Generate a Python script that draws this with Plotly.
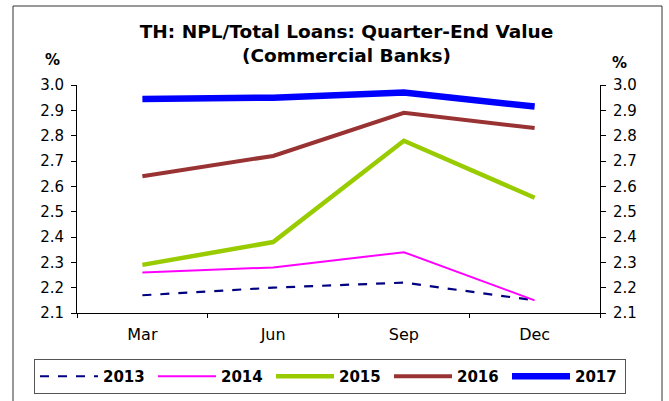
import plotly.graph_objects as go

# Quarter-end NPL ratio of Thai commercial banks (%)
quarters = ["Mar", "Jun", "Sep", "Dec"]
npl_2013 = [2.17, 2.20, 2.22, 2.15]
npl_2014 = [2.26, 2.28, 2.34, 2.15]
npl_2015 = [2.29, 2.38, 2.78, 2.555]
npl_2016 = [2.64, 2.72, 2.89, 2.83]
npl_2017 = [2.945, 2.95, 2.97, 2.915]

y_min, y_max = 2.1, 3.0
y_ticks = [2.1, 2.2, 2.3, 2.4, 2.5, 2.6, 2.7, 2.8, 2.9, 3.0]

series = [
    ("2013", npl_2013, dict(color="#000080", width=2.2, dash="dash")),
    ("2014", npl_2014, dict(color="#FF00FF", width=2)),
    ("2015", npl_2015, dict(color="#99CC00", width=4.5)),
    ("2016", npl_2016, dict(color="#993333", width=4)),
    ("2017", npl_2017, dict(color="#0000FF", width=6.5)),
]

FONT = "DejaVu Sans"

fig = go.Figure()
for name, vals, line in series:
    fig.add_trace(go.Scatter(x=quarters, y=vals, name=name, mode="lines", line=line))

W, H = 669, 401
L, R, T, B = 77, 69, 85, 88
pw, ph = W - L - R, H - T - B

def px_x(v):
    return (v - L) / pw

def px_y(v):
    return (H - B - v) / ph

axis_common = dict(
    range=[y_min, y_max], tickvals=y_ticks, tickformat=".1f",
    ticks="outside", ticklen=5, tickcolor="black",
    showline=True, linecolor="black", linewidth=1,
    showgrid=False, zeroline=False,
    tickfont=dict(family=FONT, size=15, color="black"),
)

fig.update_layout(
    width=W, height=H,
    margin=dict(l=L, r=R, t=T, b=B, autoexpand=False),
    paper_bgcolor="white", plot_bgcolor="white",
    title=dict(
        text="TH: NPL/Total Loans: Quarter-End Value<br>(Commercial Banks)",
        x=0.518, xanchor="center", y=0.905, yanchor="top",
        font=dict(family=FONT, size=18.5, color="black", weight="bold"),
    ),
    xaxis=dict(
        type="category", range=[-0.5, 3.5], tickson="boundaries",
        ticks="outside", ticklen=4, tickcolor="black",
        showline=True, linecolor="black", linewidth=1,
        showgrid=False, ticklabelstandoff=7,
        tickfont=dict(family=FONT, size=16, color="black"),
    ),
    yaxis=dict(**axis_common, ticklabelstandoff=4),
    yaxis2=dict(**axis_common, overlaying="y", side="right", ticklabelstandoff=4),
    showlegend=True,
    legend=dict(
        orientation="h", x=px_x(34), xanchor="left", y=px_y(359), yanchor="top",
        bordercolor="#555555", borderwidth=1, bgcolor="white",
        entrywidth=45, entrywidthmode="pixels", itemwidth=58,
        font=dict(family=FONT, size=15, color="black", weight="bold"),
        traceorder="normal",
    ),
)

# keep right axis drawn alongside the left
fig.add_trace(go.Scatter(x=[], y=[], yaxis="y2", showlegend=False, hoverinfo="skip"))

# unit labels above each value axis
for xp, yp in [(52, 60), (619, 63)]:
    fig.add_annotation(
        x=px_x(xp), y=px_y(yp), xref="paper", yref="paper", text="%",
        showarrow=False, xanchor="center", yanchor="middle",
        font=dict(family=FONT, size=15, color="black", weight="bold"),
    )

# outer chart frame
fig.add_shape(
    type="rect", xref="paper", yref="paper",
    x0=px_x(13), x1=px_x(662), y0=px_y(420), y1=px_y(6),
    line=dict(color="#333333", width=1), fillcolor="rgba(0,0,0,0)", layer="below",
)

fig.write_html("out.html")
